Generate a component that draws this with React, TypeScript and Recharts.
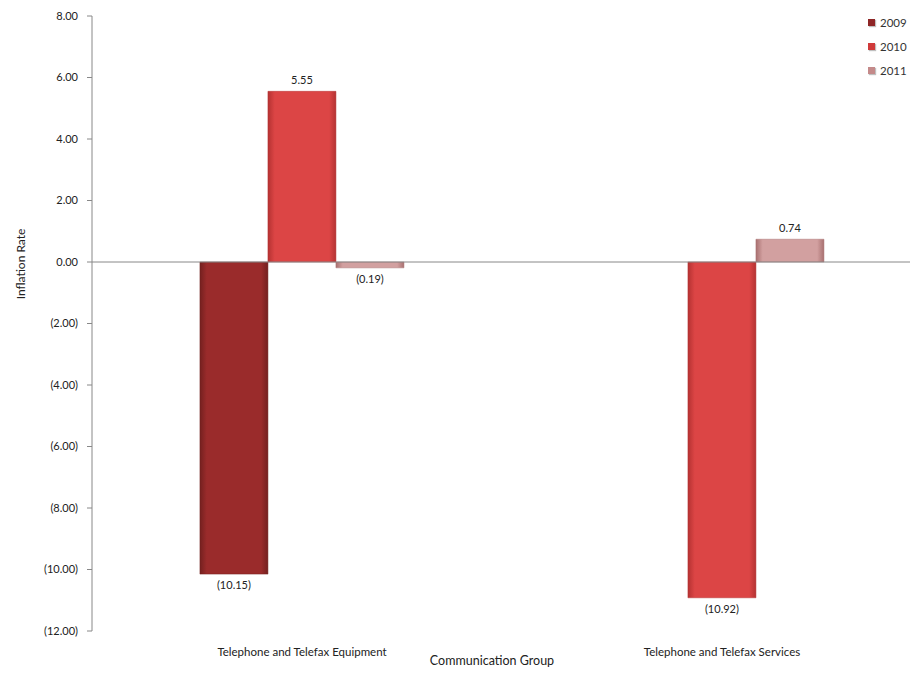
import React from 'react'
import {
  BarChart,
  Bar,
  XAxis,
  YAxis,
  LabelList,
  ReferenceLine,
} from 'recharts'

const categories = ['Telephone and  Telefax Equipment', 'Telephone and  Telefax Services']
const rate2009 = [-10.15, 0.0]
const rate2010 = [5.55, -10.92]
const rate2011 = [-0.19, 0.74]
const yTicks = [8, 6, 4, 2, 0, -2, -4, -6, -8, -10, -12]
const seriesYears = ['2009', '2010', '2011']

const data = categories.map((name, i) => ({
  name,
  y2009: rate2009[i],
  y2010: rate2010[i],
  y2011: rate2011[i],
}))

const FONT = 'Lato, "Open Sans", sans-serif'

// 2009 dark red, 2010 bright red, 2011 dusty pink
const palette = [
  { id: 'g2009', edge: '#74201f', mid: '#9a2b2b', swatch: '#8e2626' },
  { id: 'g2010', edge: '#b53232', mid: '#dc4545', swatch: '#d03a3a' },
  { id: 'g2011', edge: '#a87070', mid: '#d2a0a0', swatch: '#c48a8a' },
]

const fmt = (v: any) => {
  const n = Number(v)
  const s = Math.abs(n).toFixed(2)
  return n < 0 ? `(${s})` : s
}

// legend in the top-right corner
const LegendBox = () => (
  <div
    style={{
      position: 'absolute',
      top: 2,
      left: 860,
      fontFamily: FONT,
      fontSize: 11.5,
      color: '#333',
      whiteSpace: 'nowrap',
    }}
  >
    {seriesYears.map((year, i) => (
      <div key={year} style={{ display: 'flex', alignItems: 'center', height: 24 }}>
        <div
          style={{
            width: 7,
            height: 7,
            marginRight: 5,
            background: palette[i].swatch,
            boxShadow: '1px 1px 1px rgba(0,0,0,0.25)',
          }}
        />
        <span>{year}</span>
      </div>
    ))}
  </div>
)

const YTitle = () => (
  <text
    x={0}
    y={0}
    transform="translate(12, 256) rotate(-90)"
    textAnchor="middle"
    dominantBaseline="central"
    style={{ fontFamily: FONT, fontSize: 12, fill: '#222' }}
  >
    Inflation Rate
  </text>
)

export default function App() {
  return (
    <div style={{ width: 910, height: 688, overflow: 'hidden', position: 'relative' }}>
      <BarChart
        width={940}
        height={688}
        data={data}
        margin={{ top: 8, right: 16, left: 0, bottom: 0 }}
        barCategoryGap="25.7%"
        barGap={0}
      >
        <defs>
          {palette.map((p) => (
            <linearGradient key={p.id} id={p.id} x1="0" y1="0" x2="1" y2="0">
              <stop offset="0%" stopColor={p.edge} />
              <stop offset="10%" stopColor={p.mid} />
              <stop offset="90%" stopColor={p.mid} />
              <stop offset="100%" stopColor={p.edge} />
            </linearGradient>
          ))}
        </defs>
        <XAxis
          dataKey="name"
          height={65}
          axisLine={false}
          tickLine={false}
          tickMargin={11}
          tick={{ fontFamily: FONT, fontSize: 11.5, fill: '#222' }}
          label={{
            value: 'Communication Group',
            position: 'insideBottom',
            offset: 31,
            dx: -20,
            style: { fontFamily: FONT, fontSize: 12.5, fill: '#222' },
          }}
        />
        <YAxis
          width={84}
          domain={[-12, 8]}
          ticks={yTicks}
          interval={0}
          tickFormatter={fmt}
          tickSize={5}
          tickMargin={9}
          stroke="#888"
          tick={{ fontFamily: FONT, fontSize: 11, fill: '#222' }}
          label={{ content: () => <YTitle /> }}
        />
        <ReferenceLine y={0} stroke="#888" strokeWidth={1} />
        {(['y2009', 'y2010', 'y2011'] as const).map((key, i) => (
          <Bar
            key={key}
            dataKey={key}
            name={seriesYears[i]}
            fill={`url(#${palette[i].id})`}
            stroke={palette[i].edge}
            strokeWidth={0.5}
            isAnimationActive={false}
          >
            <LabelList
              dataKey={key}
              position="top"
              offset={7}
              formatter={fmt}
              style={{ fontFamily: FONT, fontSize: 11, fill: '#222' }}
            />
          </Bar>
        ))}
      </BarChart>
      <LegendBox />
    </div>
  )
}
